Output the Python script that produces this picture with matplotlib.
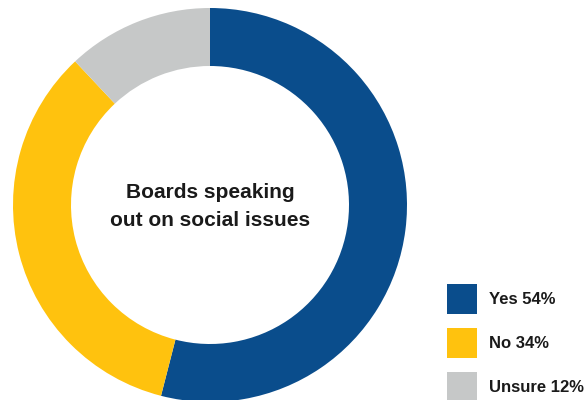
import matplotlib.pyplot as plt
from matplotlib.patches import Rectangle

# share of boards speaking out on social issues
labels = ['Yes', 'No', 'Unsure']
shares = [54, 34, 12]
colors = ['#0A4D8C', '#FFC20E', '#C6C8C8']

plt.rcParams['font.family'] = ['Liberation Sans', 'DejaVu Sans']

fig = plt.figure(figsize=(5.87, 4.0), dpi=100)
ax = fig.add_axes([0, 0, 1, 1])

ax.pie(shares, colors=colors, startangle=90, counterclock=False,
       radius=197, center=(210, 195),
       wedgeprops=dict(width=58, linewidth=0))

ax.text(210, 207, 'Boards speaking', ha='center', va='center',
        fontsize=15, fontweight='bold', color='#1a1a1a')
ax.text(210, 180, 'out on social issues', ha='center', va='center',
        fontsize=15, fontweight='bold', color='#1a1a1a')

# legend boxes down the lower right
for i, (lab, val, col) in enumerate(zip(labels, shares, colors)):
    top = 400 - 284 - i * 44
    ax.add_patch(Rectangle((447, top - 30), 30, 30, facecolor=col, linewidth=0))
    ax.text(489, top - 15, f'{lab} {val}%', ha='left', va='center',
            fontsize=12, fontweight='bold', color='#1a1a1a')

ax.set_xlim(0, 587)
ax.set_ylim(0, 400)
ax.set_aspect('equal')
ax.axis('off')

fig.savefig('out.png', dpi=100)
